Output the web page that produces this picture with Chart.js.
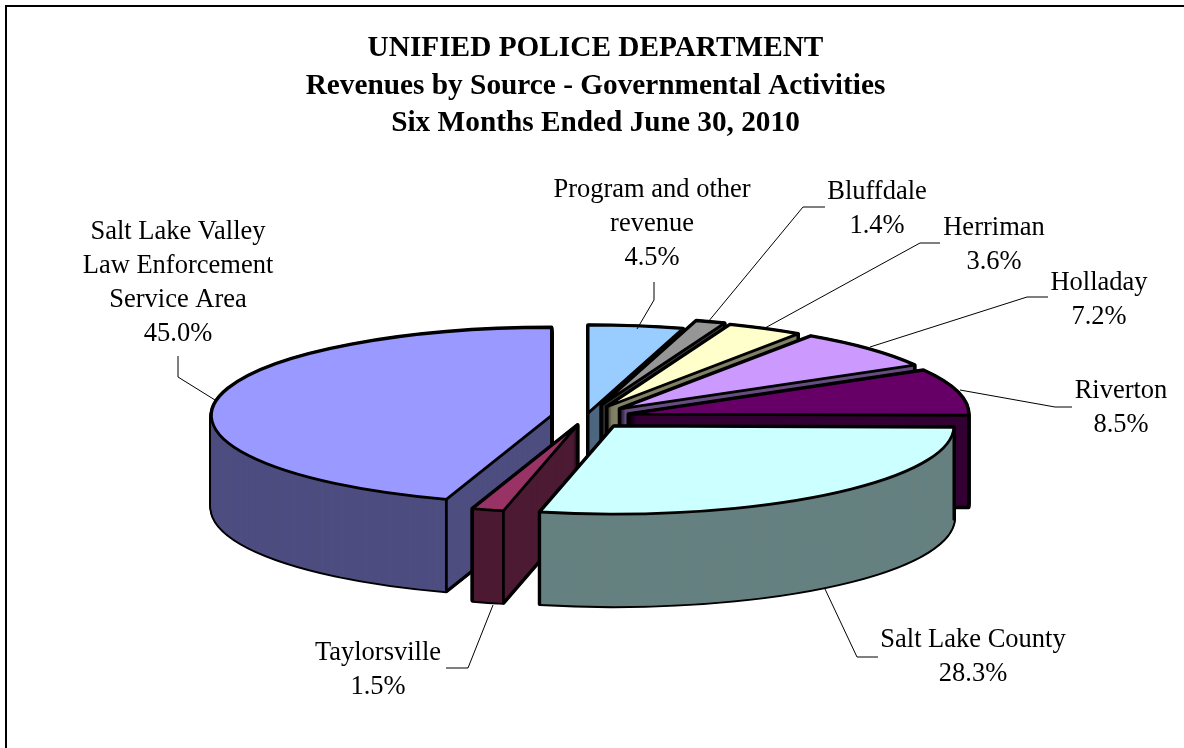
<!DOCTYPE html>
<html>
<head>
<meta charset="utf-8">
<style>html,body{margin:0;padding:0;background:#fff}canvas{display:block}</style>
<script src="https://cdn.jsdelivr.net/npm/chart.js@4"></script>
</head>
<body>
<canvas id="c" width="1184" height="748"></canvas>
<script>
const titleLines = ['UNIFIED POLICE DEPARTMENT', 'Revenues by Source - Governmental Activities', 'Six Months Ended June 30, 2010'];
const categories = ['Program and other revenue', 'Bluffdale', 'Herriman', 'Holladay', 'Riverton', 'Salt Lake County', 'Taylorsville', 'Salt Lake Valley Law Enforcement Service Area'];
const shares = [4.5, 1.4, 3.6, 7.2, 8.5, 28.3, 1.5, 45.0];
const topColors = ['#99ccff', '#969696', '#ffffcc', '#cc99ff', '#660066', '#ccffff', '#993366', '#9999ff'];
const wallColors = ['#4d6680', '#4b4b4b', '#808066', '#664d80', '#330033', '#668080', '#4d1a33', '#4d4d80'];
const explode = [15, 48, 45, 46, 44, 45, 32, 35];
const categoryLines = [['Program and other', 'revenue'], ['Bluffdale'], ['Herriman'], ['Holladay'], ['Riverton'], ['Salt Lake County'], ['Taylorsville'], ['Salt Lake Valley', 'Law Enforcement', 'Service Area']];

// layout of the labels and leader lines (not data)
const labelLayout = [
  {x: 652, y: 190, leader: [[637,329],[654,300],[654,282]]},
  {x: 877, y: 192, leader: [[708,322],[803,207],[825,207]]},
  {x: 994, y: 228, leader: [[765,328],[920,243],[940,243]]},
  {x: 1099, y: 283, leader: [[870,347],[1027,297],[1048,297]]},
  {x: 1121, y: 391, leader: [[960,390],[1055,407],[1072,407]]},
  {x: 973, y: 640, leader: [[825,589],[857,657],[878,657]]},
  {x: 378, y: 653, leader: [[493,605],[468,668],[446,668]]},
  {x: 178, y: 232, leader: [[215,400],[178,377],[178,356]]}
];
const drawOrder = [0, 1, 2, 3, 4, 7, 6, 5];
const TILT = 88 / 340, DEPTH = 92, RADIUS = 340, LINE_H = 34, PIE_DX = -9.5;

const pie3d = {
  id: 'pie3d',
  beforeDatasetDraw(chart) {
    const ctx = chart.ctx;
    const arcs = chart.getDatasetMeta(0).data;
    const geom = (arc, i) => {
      const p = arc.getProps(['x', 'y', 'startAngle', 'endAngle', 'outerRadius']);
      const d = explode[i];
      const mid = (p.startAngle + p.endAngle) / 2;
      const tx = p.x + Math.cos(mid) * d;
      const ty = p.y + Math.sin(mid) * d * TILT;
      return {tx, ty, d, mid, cx: p.x, cy: p.y, r: p.outerRadius, a0: p.startAngle, a1: p.endAngle};
    };
    // fill one slice through the library's arc element, tilted and pulled out
    const fillArc = (arc, g, dy) => {
      ctx.save();
      ctx.translate(0, dy);
      ctx.translate(g.cx, g.cy);
      ctx.scale(1, TILT);
      ctx.translate(-g.cx, -g.cy);
      ctx.translate(Math.cos(g.mid) * g.d, Math.sin(g.mid) * g.d);
      arc.draw(ctx);
      ctx.restore();
    };
    const sector = (g, dy) => {
      ctx.beginPath();
      ctx.moveTo(g.tx, g.ty + dy);
      ctx.ellipse(g.tx, g.ty + dy, g.r, g.r * TILT, 0, g.a0, g.a1);
      ctx.closePath();
    };
    ctx.save();
    ctx.translate(PIE_DX, 0);
    ctx.lineJoin = 'round';
    ctx.lineCap = 'round';
    const LW = 2.8;
    drawOrder.forEach(i => {
      const arc = arcs[i];
      const g = geom(arc, i);
      const opts = arc.options;
      // outline of the extruded body
      ctx.strokeStyle = '#000';
      ctx.lineWidth = 4;
      for (let dy = DEPTH; dy >= 0; dy -= 1) { sector(g, dy); ctx.stroke(); }
      // wall
      arc.options = Object.assign({}, opts, {backgroundColor: wallColors[i]});
      for (let dy = DEPTH; dy >= 0; dy -= 1) fillArc(arc, g, dy);
      arc.options = opts;
      // visible edges of the wall
      ctx.lineWidth = LW;
      const pt = a => [g.tx + g.r * Math.cos(a), g.ty + g.r * TILT * Math.sin(a)];
      const startFront = -Math.cos(g.a0) > 0, endFront = Math.cos(g.a1) > 0;
      const c0 = pt(g.a0), c1 = pt(g.a1);
      ctx.beginPath();
      if (startFront || endFront) { ctx.moveTo(g.tx, g.ty); ctx.lineTo(g.tx, g.ty + DEPTH); }
      if (startFront || Math.sin(g.a0) > 0) { ctx.moveTo(c0[0], c0[1]); ctx.lineTo(c0[0], c0[1] + DEPTH); }
      if (endFront || Math.sin(g.a1) > 0) { ctx.moveTo(c1[0], c1[1]); ctx.lineTo(c1[0], c1[1] + DEPTH); }
      if (startFront) { ctx.moveTo(g.tx, g.ty + DEPTH); ctx.lineTo(c0[0], c0[1] + DEPTH); }
      if (endFront) { ctx.moveTo(g.tx, g.ty + DEPTH); ctx.lineTo(c1[0], c1[1] + DEPTH); }
      ctx.stroke();
      // top face
      fillArc(arc, g, 0);
      sector(g, 0); ctx.stroke();
    });
    ctx.restore();
    return false;
  },
  afterDraw(chart) {
    const ctx = chart.ctx;
    ctx.save();
    // frame
    ctx.strokeStyle = '#000';
    ctx.lineWidth = 2;
    ctx.beginPath();
    ctx.moveTo(6, 748); ctx.lineTo(6, 6); ctx.lineTo(1184, 6);
    ctx.stroke();
    // leaders
    ctx.lineWidth = 1;
    ctx.strokeStyle = '#000';
    labelLayout.forEach(l => {
      ctx.beginPath();
      l.leader.forEach((p, k) => k ? ctx.lineTo(p[0], p[1]) : ctx.moveTo(p[0], p[1]));
      ctx.stroke();
    });
    // labels
    ctx.fillStyle = '#000';
    ctx.font = '26.5px "Liberation Serif"';
    ctx.textAlign = 'center';
    ctx.textBaseline = 'middle';
    labelLayout.forEach((l, i) => {
      const lines = categoryLines[i].concat(shares[i].toFixed(1) + '%');
      lines.forEach((t, k) => ctx.fillText(t, l.x, l.y + k * LINE_H));
    });
    ctx.restore();
  }
};

new Chart(document.getElementById('c'), {
  type: 'pie',
  data: {
    labels: categories,
    datasets: [{
      data: shares,
      backgroundColor: topColors,
      borderWidth: 0,
      radius: RADIUS,
      clip: false
    }]
  },
  options: {
    responsive: false,
    animation: false,
    devicePixelRatio: 1,
    rotation: 0,
    layout: {padding: {left: 7, right: 0, top: 0, bottom: 56.5}},
    plugins: {
      legend: {display: false},
      tooltip: {enabled: false},
      title: {
        display: true,
        text: titleLines,
        color: '#000',
        font: {family: '"Liberation Serif"', size: 29.3, weight: 'bold', lineHeight: 1.28},
        padding: {top: 30, bottom: 0}
      }
    }
  },
  plugins: [pie3d, {
    id: 'bg',
    beforeDraw(chart) {
      chart.ctx.save();
      chart.ctx.fillStyle = '#fff';
      chart.ctx.fillRect(0, 0, chart.width, chart.height);
      chart.ctx.restore();
    }
  }]
});
</script>
</body>
</html>
